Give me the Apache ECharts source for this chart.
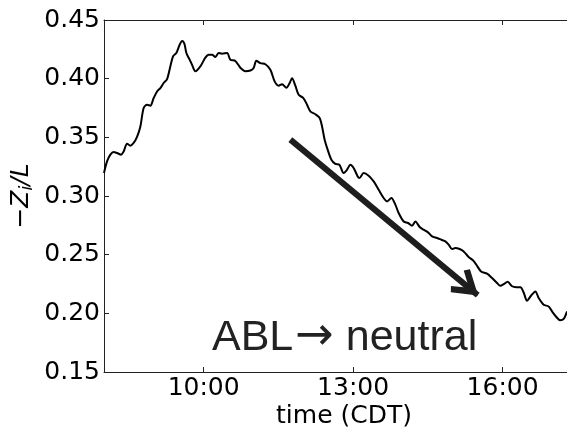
<!DOCTYPE html>
<html>
<head>
<meta charset="utf-8">
<script src="https://cdn.jsdelivr.net/npm/echarts@6/dist/echarts.min.js"></script>
<style>
html,body{margin:0;padding:0;background:#fff;}
#chart{width:567px;height:429px;}
</style>
</head>
<body>
<div id="chart"></div>
<script>
// time of day in decimal hours (CDT)
const timeHours = [8.0, 8.061, 8.128, 8.194, 8.262, 8.342, 8.395, 8.463, 8.529, 8.595,
  8.663, 8.730, 8.796, 8.864, 8.930, 8.997, 9.065, 9.131, 9.197, 9.266,
  9.332, 9.386, 9.452, 9.518, 9.567, 9.613, 9.653, 9.719, 9.767, 9.833,
  9.934, 10.034, 10.100, 10.169, 10.235, 10.301, 10.369, 10.470, 10.536, 10.636,
  10.736, 10.837, 10.937, 11.003, 11.058, 11.138, 11.238, 11.339, 11.425, 11.505,
  11.573, 11.660, 11.726, 11.774, 11.840, 11.906, 12.001, 12.075, 12.141, 12.242,
  12.328, 12.376, 12.428, 12.488, 12.563, 12.643, 12.723, 12.810, 12.878, 12.944,
  13.010, 13.091, 13.125, 13.211, 13.311, 13.412, 13.512, 13.612, 13.681, 13.767,
  13.847, 13.913, 14.014, 14.102, 14.182, 14.248, 14.335, 14.415, 14.503, 14.584,
  14.684, 14.770, 14.851, 14.917, 14.985, 15.051, 15.137, 15.218, 15.318, 15.406,
  15.473, 15.567, 15.687, 15.788, 15.888, 15.954, 16.020, 16.101, 16.189, 16.275,
  16.356, 16.422, 16.490, 16.570, 16.657, 16.723, 16.823, 16.923, 16.992, 17.078,
  17.158, 17.225, 17.293];
// -Zi/L values
const ziOverL = [0.3196, 0.3295, 0.3352, 0.3375, 0.3366, 0.3352, 0.3380, 0.3446, 0.3429, 0.3452,
  0.3503, 0.3593, 0.3750, 0.3778, 0.3770, 0.3835, 0.3891, 0.3920, 0.3963, 0.3997,
  0.4105, 0.4190, 0.4219, 0.4289, 0.4322, 0.4298, 0.4219, 0.4162, 0.4119, 0.4064,
  0.4105, 0.4179, 0.4204, 0.4204, 0.4185, 0.4219, 0.4213, 0.4219, 0.4162, 0.4151,
  0.4093, 0.4064, 0.4070, 0.4091, 0.4153, 0.4132, 0.4123, 0.4076, 0.3977, 0.3940,
  0.3953, 0.3923, 0.3963, 0.4004, 0.3940, 0.3863, 0.3835, 0.3778, 0.3721, 0.3697,
  0.3665, 0.3593, 0.3480, 0.3395, 0.3309, 0.3273, 0.3267, 0.3196, 0.3224, 0.3267,
  0.3239, 0.3167, 0.3153, 0.3196, 0.3173, 0.3124, 0.3054, 0.2983, 0.2954, 0.2983,
  0.2926, 0.2855, 0.2783, 0.2770, 0.2747, 0.2783, 0.2736, 0.2713, 0.2690, 0.2656,
  0.2642, 0.2627, 0.2613, 0.2585, 0.2548, 0.2557, 0.2548, 0.2528, 0.2480, 0.2451,
  0.2414, 0.2357, 0.2338, 0.2301, 0.2258, 0.2235, 0.2248, 0.2269, 0.2231, 0.2223,
  0.2223, 0.2178, 0.2108, 0.2150, 0.2187, 0.2131, 0.2073, 0.2059, 0.2016, 0.1969,
  0.1940, 0.1952, 0.2016];
const xTickHours = [10, 13, 16];
const xTickLabels = ['10:00', '13:00', '16:00'];
const yTickValues = [0.15, 0.20, 0.25, 0.30, 0.35, 0.40, 0.45];
const yTickLabels = ['0.15', '0.20', '0.25', '0.30', '0.35', '0.40', '0.45'];
// annotation arrow (data coordinates) and text
const arrowStart = [11.74, 0.348];
const arrowEnd = [15.50, 0.2155];
const annotationParts = ['ABL', '\u2192', ' neutral'];

const seriesData = timeHours.map((t, i) => [t, ziOverL[i]]);
const xLabelFor = v => { const i = xTickHours.indexOf(Math.round(v)); return i >= 0 ? xTickLabels[i] : ''; };
const yLabelFor = v => { const i = yTickValues.findIndex(y => Math.abs(y - v) < 1e-6); return i >= 0 ? yTickLabels[i] : ''; };

const axisColor = '#222';
const tickFont = {fontFamily: 'DejaVu Sans', fontSize: 25, color: '#000'};
const chevron = 'path://M15,0 L30,23 L25,27 L15,12 L5,27 L0,23 Z';

const chart = echarts.init(document.getElementById('chart'), null, {renderer: 'canvas'});
chart.setOption({
  animation: false,
  backgroundColor: '#fff',
  grid: {left: 104, top: 20, width: 480, height: 352, containLabel: false, outerBoundsMode: 'none'},
  xAxis: [{
    type: 'value', min: 8.0, max: 17.633, position: 'bottom',
    axisLine: {show: true, onZero: false, lineStyle: {color: axisColor, width: 1}},
    axisTick: {show: true, inside: true, length: 5, customValues: xTickHours, lineStyle: {color: axisColor}},
    axisLabel: Object.assign({show: true, margin: 4, customValues: xTickHours, formatter: xLabelFor}, tickFont),
    splitLine: {show: false},
    name: 'time (CDT)', nameLocation: 'middle', nameGap: 32, nameMoveOverlap: false,
    nameTextStyle: {fontFamily: 'DejaVu Sans', fontSize: 25, color: '#000'}
  }, {
    type: 'value', min: 8.0, max: 17.633, position: 'top',
    axisLine: {show: true, onZero: false, lineStyle: {color: axisColor, width: 1}},
    axisTick: {show: true, inside: true, length: 5, customValues: xTickHours, lineStyle: {color: axisColor}},
    axisLabel: {show: false},
    splitLine: {show: false}
  }],
  yAxis: [{
    type: 'value', min: 0.15, max: 0.45, interval: 0.05, position: 'left',
    axisLine: {show: true, onZero: false, lineStyle: {color: axisColor, width: 1}},
    axisTick: {show: true, inside: true, length: 5, lineStyle: {color: axisColor}},
    axisLabel: Object.assign({show: true, margin: 4, formatter: yLabelFor}, tickFont),
    splitLine: {show: false},
    name: '{m|\u2212}{a|Z}{b|i}{a|/L}', nameLocation: 'middle', nameRotate: 90, nameGap: 68,
    nameMoveOverlap: false,
    nameTextStyle: {
      rich: {
        m: {fontFamily: 'DejaVu Sans', fontSize: 25, lineHeight: 30, color: '#000', verticalAlign: 'middle'},
        a: {fontFamily: 'DejaVu Sans', fontStyle: 'italic', fontSize: 25, lineHeight: 30, color: '#000', verticalAlign: 'middle'},
        b: {fontFamily: 'DejaVu Sans', fontStyle: 'italic', fontSize: 17, lineHeight: 17, color: '#000', verticalAlign: 'bottom'}
      }
    }
  }],
  series: [{
    type: 'line', xAxisIndex: 0, yAxisIndex: 0,
    data: seriesData, showSymbol: false, smooth: 0.3,
    lineStyle: {color: '#000', width: 2},
    markLine: {
      silent: true, animation: false,
      symbol: ['none', chevron],
      symbolSize: [30, 27],
      symbolOffset: [0, [0, 13]],
      label: {show: false},
      lineStyle: {type: 'solid', color: '#1e1e1e', width: 6},
      emphasis: {disabled: true},
      data: [[{coord: arrowStart}, {coord: arrowEnd, itemStyle: {color: '#1e1e1e'}}]]
    }
  }],
  graphic: [{
    type: 'text', left: 212, top: 314, silent: true,
    style: {
      text: '{t|' + annotationParts[0] + '}{ar|' + annotationParts[1] + '}{t|' + annotationParts[2] + '}',
      rich: {
        t: {fontFamily: 'Liberation Sans', fontSize: 43, lineHeight: 50, fill: '#222', verticalAlign: 'bottom'},
        ar: {fontFamily: 'DejaVu Sans', fontSize: 46, lineHeight: 50, fill: '#222', verticalAlign: 'bottom', padding: [0, 0, 0, 2]}
      }
    }
  }]
});
</script>
</body>
</html>
